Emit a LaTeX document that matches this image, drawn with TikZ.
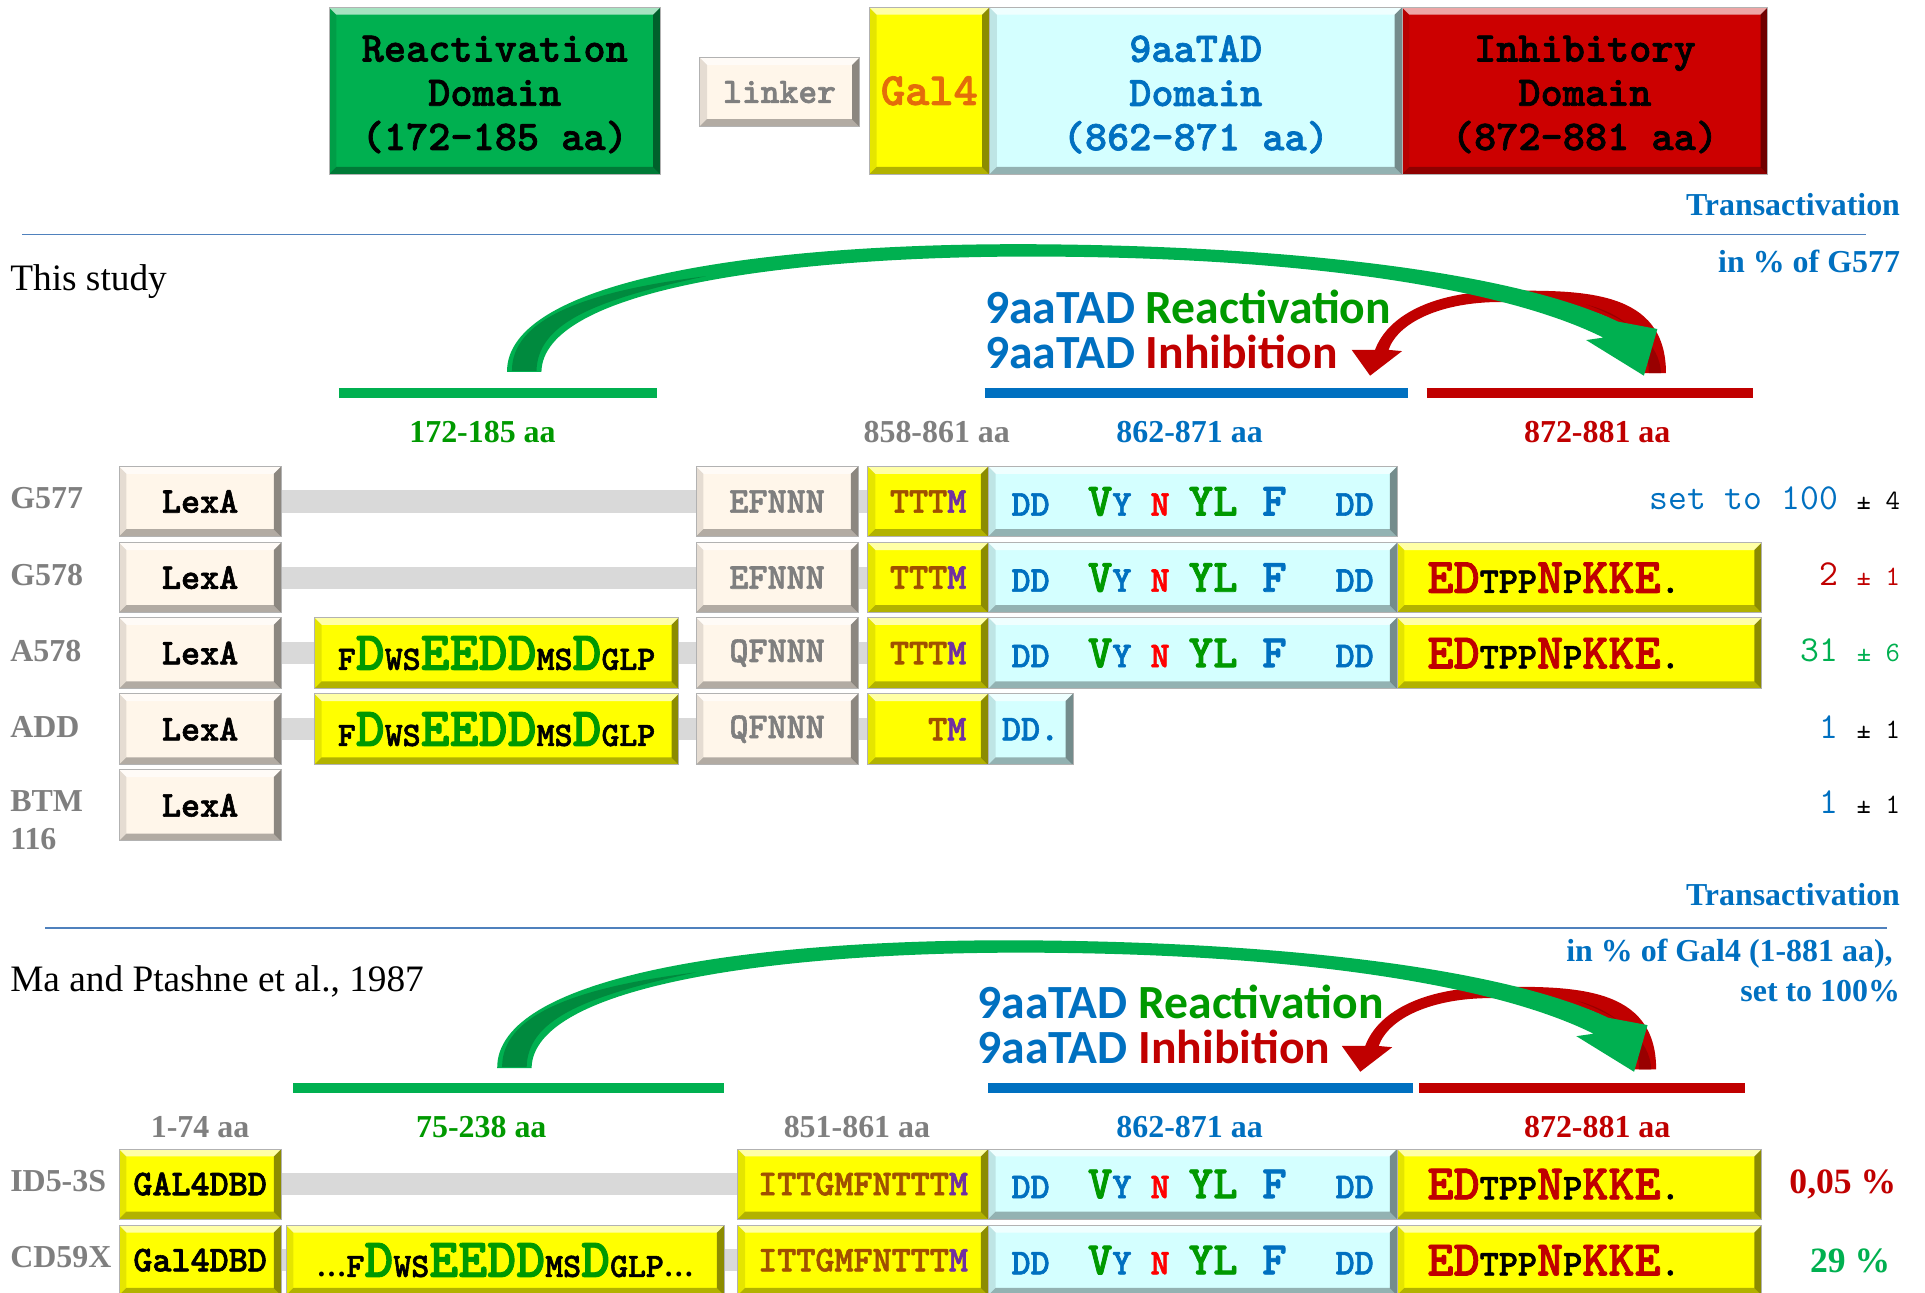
\documentclass[tikz,border=0pt]{standalone}
\usepackage{fontspec}
\setmainfont{Liberation Serif}
\newfontfamily\fmonob{lmmonolt10-bold.otf}[FakeBold=1.6]
\newcommand\fmono{\fmonob}
\newfontfamily\fcal{Carlito}
\usetikzlibrary{arrows.meta}
\definecolor{tblue}{HTML}{0070C0}
\definecolor{tgreen}{HTML}{009900}
\definecolor{bgreen}{HTML}{00B050}
\definecolor{tred}{HTML}{C00000}
\definecolor{nred}{HTML}{FF0000}
\definecolor{tgray}{HTML}{7F7F7F}
\definecolor{tbrown}{HTML}{A05000}
\definecolor{tpurple}{HTML}{7030A0}
\definecolor{torange}{HTML}{E46C0A}
\definecolor{cream}{HTML}{FFF6EA}
\definecolor{cyanbox}{HTML}{D4FFFF}
\definecolor{yelbox}{HTML}{FFFF00}
\definecolor{redbox}{HTML}{CC0000}
\definecolor{grnbox}{HTML}{00B050}
\definecolor{barg}{HTML}{D9D9D9}
\definecolor{sepc}{HTML}{4F81BD}
\definecolor{gdark}{HTML}{008A3E}
\definecolor{rdark}{HTML}{990000}
\pgfdeclarelayer{bg}\pgfsetlayers{bg,main}
\tikzset{
 bevbox/.style={draw=black!30, line width=0.4pt, inner sep=0pt, outer sep=0pt, anchor=north west, align=center,
  font=\fmono\fontsize{14.8}{17}\selectfont,
  path picture={
   \fill[white,opacity=.65] (path picture bounding box.north west) -- (path picture bounding box.north east) -- ([shift={(-3pt,-3pt)}]path picture bounding box.north east) -- ([shift={(3pt,-3pt)}]path picture bounding box.north west) -- cycle;
   \fill[black,opacity=.3] (path picture bounding box.south west) -- (path picture bounding box.south east) -- ([shift={(-3pt,3pt)}]path picture bounding box.south east) -- ([shift={(3pt,3pt)}]path picture bounding box.south west) -- cycle;
   \fill[black,opacity=.45] (path picture bounding box.north east) -- (path picture bounding box.south east) -- ([shift={(-3pt,3pt)}]path picture bounding box.south east) -- ([shift={(-3pt,-3pt)}]path picture bounding box.north east) -- cycle;
   \fill[black,opacity=.1] (path picture bounding box.north west) -- (path picture bounding box.south west) -- ([shift={(3pt,3pt)}]path picture bounding box.south west) -- ([shift={(3pt,-3pt)}]path picture bounding box.north west) -- cycle;
  }},
 toptxt/.style={inner sep=0pt, align=center, font=\fmono\fontsize{17.2}{18}\selectfont},
 lab/.style={inner sep=0pt, font=\bfseries\fontsize{13}{15.5}\selectfont},
 study/.style={inner sep=0pt, anchor=west, font=\fontsize{15.2}{18}\selectfont},
 calt/.style={inner sep=0pt, anchor=west, font=\fcal\bfseries\fontsize{19.4}{22}\selectfont},
 val/.style={inner sep=0pt, anchor=east, font=\ttfamily\fontsize{14.9}{17}\selectfont},
 pct/.style={inner sep=0pt, anchor=east, font=\bfseries\fontsize{14.5}{17}\selectfont},
 hbar/.style={line width=4pt},
 gbar/.style={draw=barg, line width=9pt},
 sep/.style={draw=sepc, line width=0.8pt},
}
\newcommand\bx[7]{\node[bevbox,#6,minimum width={(#4-#2)*0.5pt},minimum height={(#5-#3)*0.5pt}] (#1) at (#2,#3) {#7};}
\newcommand\mS[1]{{\fontsize{14.8}{17}\selectfont#1}}
\newcommand\cyL[1]{{\fontsize{19}{21}\selectfont#1}}
\newcommand\edL[1]{{\fontsize{20.3}{22}\selectfont#1}}
\newcommand\fdS[1]{{\fontsize{13.9}{16}\selectfont#1}}
\newcommand\fdL[1]{{\fontsize{22.5}{24}\selectfont#1}}
\newcommand\pmS[1]{{\fontsize{11.4}{13}\selectfont#1}}
\newcommand\cyantxt{\textcolor{tblue}{\mS{DD~~}}\textcolor{tgreen}{\cyL{V}}\textcolor{tblue}{\mS{Y~}}\textcolor{nred}{\mS{N~}}\textcolor{tgreen}{\cyL{YL~}}\textcolor{tblue}{\cyL{F~~}}\textcolor{tblue}{\mS{DD}}}
\newcommand\edtxt{\textcolor{tred}{\edL{ED}}\mS{TPP}\textcolor{tred}{\edL{N}}\mS{P}\textcolor{tred}{\edL{KKE}}\mS{.}\hspace{21pt}}
\newcommand\fdtxt{\fdS{F}\textcolor{tgreen}{\fdL{D}}\fdS{WS}\textcolor{tgreen}{\fdL{EEDD}}\fdS{MS}\textcolor{tgreen}{\fdL{D}}\fdS{GLP}}
\newcommand\ellip{{\rmfamily\bfseries\fontsize{12.2}{14}\selectfont …}}
\newcommand\arrowpair{%
 \fill[tred] (1357,304) .. controls (1357,236) and (1290,236) .. (1222,237) .. controls (1165,238) and (1130,258) .. (1120,285) -- (1101,285) -- (1116,306) -- (1142,286) -- (1131,285) .. controls (1139,262) and (1175,246) .. (1222,246) .. controls (1280,246) and (1339,252) .. (1339,304) -- cycle;
 \fill[rdark] (1343,304) .. controls (1343,272) and (1322,256) .. (1292,248) .. controls (1330,262) and (1352,280) .. (1353,304) -- cycle;
 \fill[bgreen] (413,303) .. controls (412,228) and (620,197) .. (850,199) .. controls (1075,201) and (1240,225) .. (1318,262) -- (1350,268) -- (1339,306) -- (1292,277) -- (1306,275) .. controls (1230,237) and (1075,210) .. (850,209) .. controls (640,208) and (442,236) .. (441,303) -- cycle;
 \fill[gdark] (417,302) .. controls (417,262) and (470,238) .. (575,225) .. controls (480,245) and (438,265) .. (437,302) -- cycle;
}
\begin{document}
\begin{tikzpicture}[x=0.5pt,y=-0.5pt]
\useasboundingbox (0,0) rectangle (1568,1053);
\begin{pgfonlayer}{bg}
\fill[white] (0,0) rectangle (1568,1053);
\end{pgfonlayer}
% ---------- legend boxes
\bx{rd}{268}{6}{538}{142}{fill=grnbox}{}
\node[toptxt] (rdt) at ([yshift=-1.5pt]rd.center) {Reactivation\\Domain\\(172-185 aa)};
\bx{lk}{570}{47}{700}{103}{fill=cream,text=tgray,font=\fmono\fontsize{14.6}{16}\selectfont}{linker}
\bx{gl}{708}{6}{806}{142}{fill=yelbox,text=torange,font=\fmono\fontsize{18.8}{20}\selectfont}{Gal4}
\bx{td}{806}{6}{1142}{142}{fill=cyanbox}{}
\node[toptxt,text=tblue] (tdt) at ([yshift=-1.5pt]td.center) {9aaTAD\\Domain\\(862-871 aa)};
\bx{ih}{1142}{6}{1440}{142}{fill=redbox}{}
\node[toptxt] (iht) at ([yshift=-1.5pt]ih.center) {Inhibitory\\Domain\\(872-881 aa)};
% ---------- upper section
\node[lab,text=tblue,anchor=east] (tr1) at (1548,167) {Transactivation};
\draw[sep] (18,191) -- (1520,191);
\node[lab,text=tblue,anchor=east] (pc1) at (1548,213) {in \% of G577};
\node[study] (st1) at (8,229) {This study};
\arrowpair
\node[calt] (ra1) at (802,250) {\textcolor{tblue}{9aaTAD} \textcolor{tgreen}{Reactivation}};
\node[calt] (ib1) at (802,287) {\textcolor{tblue}{9aaTAD} \textcolor{tred}{Inhibition}};
\draw[hbar,draw=bgreen] (276,320) -- (535,320);
\draw[hbar,draw=tblue] (802,320) -- (1147,320);
\draw[hbar,draw=tred] (1162,320) -- (1428,320);
\node[lab,text=tgreen] (la1) at (393,352) {172-185 aa};
\node[lab,text=tgray] (la2) at (763,352) {858-861 aa};
\node[lab,text=tblue] (la3) at (969,352) {862-871 aa};
\node[lab,text=tred] (la4) at (1301,352) {872-881 aa};
% rows
\node[lab,text=tgray,anchor=west] (n1) at (8,406) {G577};
\node[lab,text=tgray,anchor=west] (n2) at (8,468) {G578};
\node[lab,text=tgray,anchor=west] (n3) at (8,530) {A578};
\node[lab,text=tgray,anchor=west] (n4) at (8,592) {ADD};
\node[lab,text=tgray,anchor=west,align=left] (n5) at (8,668) {BTM\\116};
% G577
\bx{a1}{97}{380}{229}{437}{fill=cream}{LexA}
\bx{b1}{567}{380}{699}{437}{fill=cream,text=tgray}{EFNNN}
\bx{c1}{707}{380}{805}{437}{fill=yelbox}{\textcolor{tbrown}{TTT}\textcolor{tpurple}{M}}
\bx{d1}{805}{380}{1138}{437}{fill=cyanbox}{\cyantxt}
% G578
\bx{a2}{97}{442}{229}{499}{fill=cream}{LexA}
\bx{b2}{567}{442}{699}{499}{fill=cream,text=tgray}{EFNNN}
\bx{c2}{707}{442}{805}{499}{fill=yelbox}{\textcolor{tbrown}{TTT}\textcolor{tpurple}{M}}
\bx{d2}{805}{442}{1138}{499}{fill=cyanbox}{\cyantxt}
\bx{e2}{1138}{442}{1435}{499}{fill=yelbox}{\edtxt}
% A578
\bx{a3}{97}{503}{229}{561}{fill=cream}{LexA}
\bx{f3}{256}{503}{553}{561}{fill=yelbox}{\fdtxt}
\bx{b3}{567}{503}{699}{561}{fill=cream,text=tgray}{QFNNN}
\bx{c3}{707}{503}{805}{561}{fill=yelbox}{\textcolor{tbrown}{TTT}\textcolor{tpurple}{M}}
\bx{d3}{805}{503}{1138}{561}{fill=cyanbox}{\cyantxt}
\bx{e3}{1138}{503}{1435}{561}{fill=yelbox}{\edtxt}
% ADD
\bx{a4}{97}{565}{229}{623}{fill=cream}{LexA}
\bx{f4}{256}{565}{553}{623}{fill=yelbox}{\fdtxt}
\bx{b4}{567}{565}{699}{623}{fill=cream,text=tgray}{QFNNN}
\bx{c4}{707}{565}{805}{623}{fill=yelbox}{\phantom{TT}\textcolor{tbrown}{T}\textcolor{tpurple}{M}}
\bx{d4}{805}{565}{874}{623}{fill=cyanbox,text=tblue}{DD.}
% BTM116
\bx{a5}{97}{627}{229}{685}{fill=cream}{LexA}
\begin{pgfonlayer}{bg}
\draw[gbar] (a1.east) -- (c1.west);
\draw[gbar] (a2.east) -- (c2.west);
\draw[gbar] (a3.east) -- (c3.west);
\draw[gbar] (a4.east) -- (c4.west);
\end{pgfonlayer}
% values
\node[val] (v1) at (1548,406) {\textcolor{tblue}{set~to~100}~\pmS{±~4}};
\node[val,text=tred] (v2) at (1548,468) {2~\pmS{±~1}};
\node[val,text=bgreen] (v3) at (1548,530) {31~\pmS{±~6}};
\node[val] (v4) at (1548,592) {\textcolor{tblue}{1}~\pmS{±~1}};
\node[val] (v5) at (1548,653) {\textcolor{tblue}{1}~\pmS{±~1}};
% ---------- lower section
\node[lab,text=tblue,anchor=east] (tr2) at (1548,729) {Transactivation};
\draw[sep] (37,756) -- (1537,756);
\node[lab,text=tblue,anchor=east] (pc2) at (1542,777) {in \% of Gal4 (1-881 aa),};
\node[lab,text=tblue,anchor=east] (pc3) at (1548,807) {set to 100\%};
\node[study] (st2) at (8,799) {Ma and Ptashne et al., 1987};
\begin{scope}[shift={(-8,567)}]
\arrowpair
\end{scope}
\node[calt] (ra2) at (796,816) {\textcolor{tblue}{9aaTAD} \textcolor{tgreen}{Reactivation}};
\node[calt] (ib2) at (796,853) {\textcolor{tblue}{9aaTAD} \textcolor{tred}{Inhibition}};
\draw[hbar,draw=bgreen] (239,886) -- (590,886);
\draw[hbar,draw=tblue] (805,886) -- (1151,886);
\draw[hbar,draw=tred] (1156,886) -- (1421,886);
\node[lab,text=tgray] (lb1) at (163,918) {1-74 aa};
\node[lab,text=tgreen] (lb2) at (392,918) {75-238 aa};
\node[lab,text=tgray] (lb3) at (698,918) {851-861 aa};
\node[lab,text=tblue] (lb4) at (969,918) {862-871 aa};
\node[lab,text=tred] (lb5) at (1301,918) {872-881 aa};
\node[lab,text=tgray,anchor=west] (n6) at (8,962) {ID5-3S};
\node[lab,text=tgray,anchor=west] (n7) at (8,1024) {CD59X};
% ID5-3S
\bx{g6}{97}{936}{229}{993}{fill=yelbox}{GAL4DBD}
\bx{h6}{601}{936}{805}{993}{fill=yelbox}{\textcolor{tbrown}{ITTGMFNTTT}\textcolor{tpurple}{M}}
\bx{d6}{805}{936}{1138}{993}{fill=cyanbox}{\cyantxt}
\bx{e6}{1138}{936}{1435}{993}{fill=yelbox}{\edtxt}
% CD59X
\bx{g7}{97}{998}{229}{1055}{fill=yelbox}{Gal4DBD}
\bx{f7}{233}{998}{590}{1055}{fill=yelbox}{\ellip\fdtxt\ellip}
\bx{h7}{601}{998}{805}{1055}{fill=yelbox}{\textcolor{tbrown}{ITTGMFNTTT}\textcolor{tpurple}{M}}
\bx{d7}{805}{998}{1138}{1055}{fill=cyanbox}{\cyantxt}
\bx{e7}{1138}{998}{1435}{1055}{fill=yelbox}{\edtxt}
\begin{pgfonlayer}{bg}
\draw[gbar] (g6.east) -- (h6.west);
\draw[gbar] (g7.east) -- (h7.west);
\end{pgfonlayer}
\node[pct,text=tred] (p6) at (1545,965) {0,05 \%};
\node[pct,text=bgreen] (p7) at (1540,1027) {29 \%};
\end{tikzpicture}
\end{document}
